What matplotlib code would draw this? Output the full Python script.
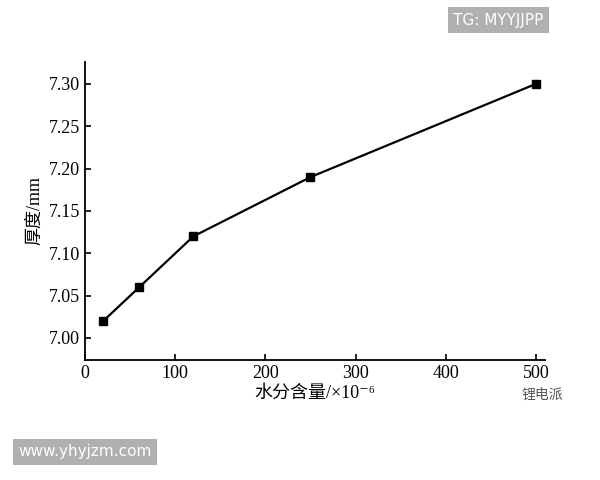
import matplotlib.pyplot as plt

plt.rcParams['font.family'] = ['Liberation Serif', 'Noto Sans CJK SC', 'DejaVu Sans']

water = [20, 60, 120, 250, 500]
thickness = [7.02, 7.06, 7.12, 7.19, 7.30]
yticks = [7.00, 7.05, 7.10, 7.15, 7.20, 7.25, 7.30]

fig = plt.figure(figsize=(6, 4.8), dpi=100)
ax = fig.add_axes([0.142, 0.25, 0.766, 0.621])
ax.plot(water, thickness, color='black', lw=1.6, marker='s', ms=6)
ax.set_xlim(0, 510)
ax.set_ylim(6.974, 7.326)
ax.set_xticks([0, 100, 200, 300, 400, 500])
ax.set_yticks(yticks)
ax.set_yticklabels([f'{v:.2f}' for v in yticks])
ax.spines['top'].set_visible(False)
ax.spines['right'].set_visible(False)
for s in ('left', 'bottom'):
    ax.spines[s].set_linewidth(1.3)
ax.tick_params(direction='in', labelsize=13, width=1.2, length=4)
ax.set_xlabel('水分含量/×10⁻⁶', fontsize=13, labelpad=2)
ax.set_ylabel('厚度/mm', fontsize=13, labelpad=4)

# watermarks
fig.text(0.755, 0.948, 'TG: MYYJJPP', fontsize=11, color='white', family='DejaVu Sans',
         bbox=dict(facecolor='#b0b0b0', edgecolor='none', pad=4))
fig.text(0.03, 0.05, 'www.yhyjzm.com', fontsize=11, color='white', family='DejaVu Sans',
         bbox=dict(facecolor='#b0b0b0', edgecolor='none', pad=4))
fig.text(0.87, 0.17, '锂电派', fontsize=10, color='#555555', family='Noto Sans CJK SC')

fig.savefig('out.png', dpi=100)
